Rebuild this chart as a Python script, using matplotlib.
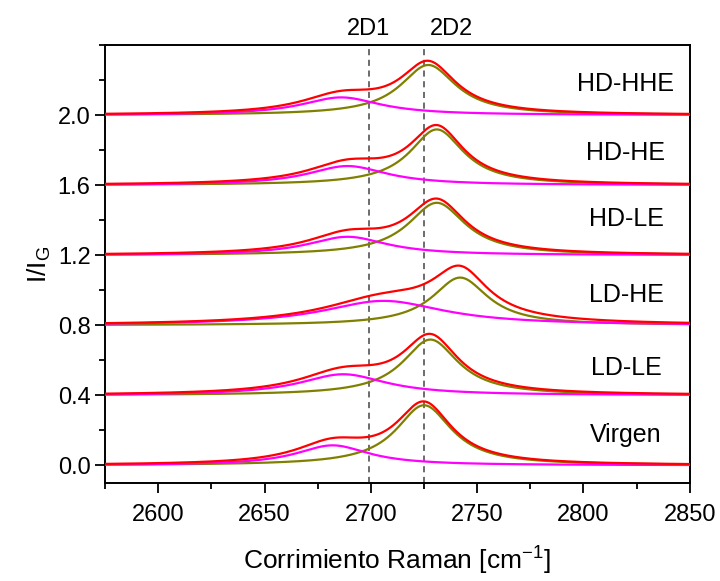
import numpy as np
import matplotlib
matplotlib.use("Agg")
import matplotlib.pyplot as plt
from matplotlib.ticker import MultipleLocator

plt.rcParams['font.family'] = ['Liberation Sans', 'DejaVu Sans']
plt.rcParams['mathtext.fontset'] = 'custom'
plt.rcParams['mathtext.rm'] = 'Liberation Sans'
plt.rcParams['mathtext.it'] = 'Liberation Sans'
plt.rcParams['mathtext.default'] = 'regular'

# ---- data (Lorentzian fit components) ----
samples = ['Virgen', 'LD-LE', 'LD-HE', 'HD-LE', 'HD-HE', 'HD-HHE']
offsets = [0.0, 0.4, 0.8, 1.2, 1.6, 2.0]
d1_center = [2682, 2687, 2706, 2689, 2689, 2686]
d1_height = [0.114, 0.120, 0.139, 0.105, 0.109, 0.101]
d1_hwhm = [21, 25, 35, 23, 23, 23]
d2_center = [2725, 2728, 2742, 2731, 2731, 2727]
d2_height = [0.343, 0.318, 0.272, 0.299, 0.318, 0.286]
d2_hwhm = [16, 16, 16, 16.5, 15.5, 16]
label_y = [0.175, 0.555, 0.975, 1.405, 1.785, 2.175]
ref_lines = [2699, 2725]
ref_names = ['2D1', '2D2']
xticks = [2600, 2650, 2700, 2750, 2800, 2850]
yticks = [0.0, 0.4, 0.8, 1.2, 1.6, 2.0]

x = np.linspace(2575, 2850, 1200)


def lorentz(xx, c, h, w):
    return h / (1.0 + ((xx - c) / w) ** 2)


fig = plt.figure(figsize=(7.2, 5.81), dpi=100)
ax = fig.add_axes([0.146, 0.169, 0.812, 0.7535])

for i, s in enumerate(samples):
    o = offsets[i]
    l1 = lorentz(x, d1_center[i], d1_height[i], d1_hwhm[i])
    l2 = lorentz(x, d2_center[i], d2_height[i], d2_hwhm[i])
    ax.plot(x, o + l2, color='#808000', lw=1.6, zorder=3)
    ax.plot(x, o + l1, color='#FF00FF', lw=1.6, zorder=4)
    ax.plot(x, o + l1 + l2, color='#FF0000', lw=1.6, zorder=5)
    ax.text(2820, label_y[i], s, fontsize=18, ha='center', va='center')

for xv, nm, dx in zip(ref_lines, ref_names, [0, 13]):
    ax.axvline(xv, color='#444444', lw=1.1, ls=(0, (4, 3)), zorder=2)
    ax.text(xv + dx, 2.43, nm, fontsize=17, ha='center', va='bottom')

ax.set_xlim(2575, 2850)
ax.set_ylim(-0.1, 2.4)
ax.set_xticks(xticks)
ax.set_yticks(yticks)
ax.set_yticklabels([f'{v:.1f}' for v in yticks])
ax.xaxis.set_minor_locator(MultipleLocator(25))
ax.yaxis.set_minor_locator(MultipleLocator(0.2))
ax.tick_params(which='major', direction='out', length=7, width=1.3, labelsize=17,
               top=False, right=False)
ax.tick_params(axis='x', which='major', pad=8.5)
ax.tick_params(which='minor', direction='out', length=4, width=1.3,
               top=False, right=False)
for sp in ax.spines.values():
    sp.set_linewidth(1.4)

ax.set_xlabel('Corrimiento Raman [cm$^{-1}$]', fontsize=19, labelpad=13)
ax.set_ylabel('I/I$_G$', fontsize=19, labelpad=3)

fig.savefig('out.png', dpi=100)
